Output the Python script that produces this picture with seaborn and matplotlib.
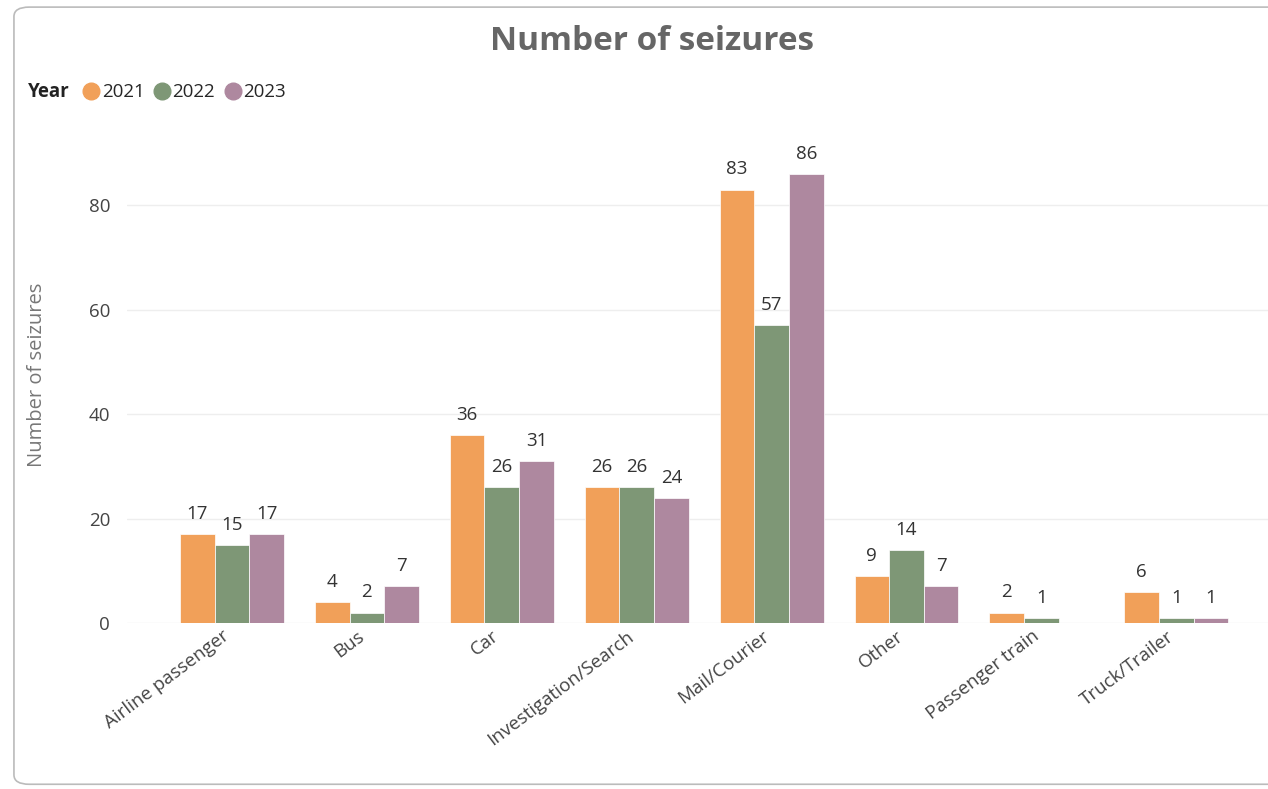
import matplotlib.pyplot as plt
import matplotlib.transforms as mtransforms
from matplotlib.lines import Line2D
from matplotlib.patches import FancyBboxPatch
import seaborn as sns
import pandas as pd

# Data
categories = ["Airline passenger", "Bus", "Car", "Investigation/Search",
              "Mail/Courier", "Other", "Passenger train", "Truck/Trailer"]
years = ["2021", "2022", "2023"]
seizures_2021 = [17, 4, 36, 26, 83, 9, 2, 6]
seizures_2022 = [15, 2, 26, 26, 57, 14, 1, 1]
seizures_2023 = [17, 7, 31, 24, 86, 7, None, 1]
yticks = [0, 20, 40, 60, 80]

colors = ["#F1A059", "#7E9776", "#AE889F"]

rows = []
for yr, vals in zip(years, [seizures_2021, seizures_2022, seizures_2023]):
    for cat, v in zip(categories, vals):
        if v is not None:
            rows.append({"Mode": cat, "Year": yr, "Seizures": v})
df = pd.DataFrame(rows)

sns.set_style("white")
plt.rcParams["font.family"] = ["Open Sans", "DejaVu Sans"]

fig = plt.figure(figsize=(12.68, 7.89), dpi=100)
ax = fig.add_axes([0.1, 0.2104, 0.9, 0.5957])

sns.barplot(data=df, x="Mode", y="Seizures", hue="Year",
            order=categories, hue_order=years, palette=colors,
            width=0.77, gap=0, saturation=1, errorbar=None, ax=ax,
            edgecolor="white", linewidth=0.5)

for cont in ax.containers:
    ax.bar_label(cont, padding=8, fontsize=13.5, color="#333333")

ax.set_xlim(-0.78, 7.68)
ax.set_ylim(0, 90)
ax.set_yticks(yticks)
ax.grid(axis="y", color="#eeeeee", linewidth=1)
ax.set_axisbelow(True)
for s in ax.spines.values():
    s.set_visible(False)
ax.tick_params(axis="both", length=0, labelsize=13.5, colors="#444444")
ax.tick_params(axis="y", pad=12)
ax.tick_params(axis="x", pad=3)

ax.set_xlabel("")
ax.set_ylabel("")
fig.text(0.029, 0.525, "Number of seizures", rotation=90, ha="center",
         va="center", fontsize=14.5, color="#777777")

offset = mtransforms.ScaledTranslation(-0.1, 0, fig.dpi_scale_trans)
for lbl in ax.get_xticklabels():
    lbl.set_rotation(37)
    lbl.set_ha("right")
    lbl.set_rotation_mode("anchor")
    lbl.set_transform(lbl.get_transform() + offset)

ax.get_legend().remove()

fig.text(0.514, 0.948, "Number of seizures", ha="center", va="center",
         fontsize=24, fontweight="bold", color="#666666")

fig.text(0.022, 0.883, "Year", ha="left", va="center", fontsize=13.5,
         fontweight="bold", color="#222222")
handles = [Line2D([], [], marker="o", linestyle="", markersize=12,
                  markerfacecolor=c, markeredgecolor=c) for c in colors]
fig.legend(handles, years, loc="center left", bbox_to_anchor=(0.058, 0.883),
           ncol=3, frameon=False, fontsize=13.5, handletextpad=0.0,
           columnspacing=0.4, handlelength=1.1, borderaxespad=0)

card = FancyBboxPatch((0.011, 0.006), 1.2, 0.985,
                      boxstyle="round,pad=0,rounding_size=0.012",
                      transform=fig.transFigure, facecolor="none",
                      edgecolor="#bbbbbb", linewidth=1.2, zorder=-1)
fig.patches.append(card)

fig.savefig("out.png", dpi=100)
